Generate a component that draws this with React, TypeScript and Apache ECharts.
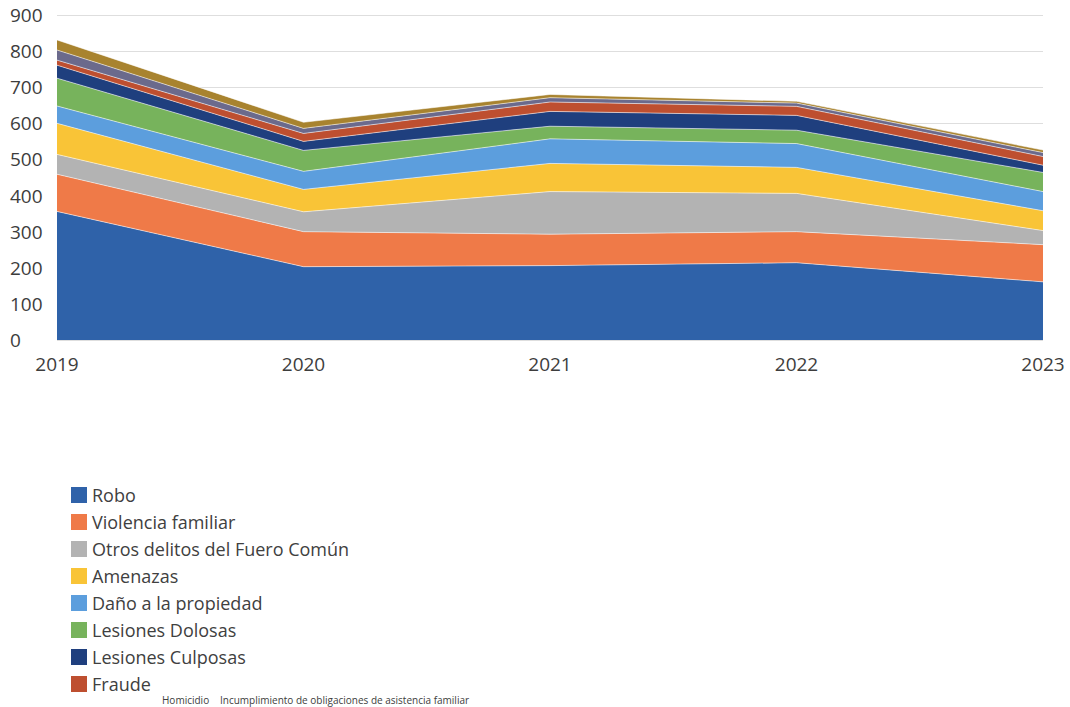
import React, { useEffect, useRef } from "react";
import * as echarts from "echarts";

const years = ["2019", "2020", "2021", "2022", "2023"];
const seriesNames = [
  "Robo",
  "Violencia familiar",
  "Otros delitos del Fuero Común",
  "Amenazas",
  "Daño a la propiedad",
  "Lesiones Dolosas",
  "Lesiones Culposas",
  "Fraude",
  "Homicidio",
  "Incumplimiento de obligaciones de asistencia familiar",
];
const robo = [356, 203, 206, 214, 161];
const violencia = [103, 97, 87, 86, 103];
const otros = [55, 55, 118, 106, 39];
const amenazas = [86, 62, 78, 72, 55];
const dano = [48, 50, 68, 66, 53];
const dolosas = [77, 58, 35, 37, 53];
const culposas = [36, 25, 41, 41, 20];
const fraude = [14, 22, 26, 25, 24];
const homicidio = [28, 14, 12, 9, 11];
const incumplimiento = [28, 17, 9, 5, 7];
const seriesValues = [robo, violencia, otros, amenazas, dano, dolosas, culposas, fraude, homicidio, incumplimiento];
const colors = [
  "#2f62a9",
  "#ef7a48",
  "#b3b3b3",
  "#f9c437",
  "#5c9edd",
  "#77b35c",
  "#1f3f7e",
  "#be4f30",
  "#6b6a8c",
  "#a8832f",
];
const yTicks = { min: 0, max: 900, interval: 100 };

const FONT = "'Open Sans', 'Noto Sans', sans-serif";

export default function App() {
  const ref = useRef<HTMLDivElement>(null);
  useEffect(() => {
    if (!ref.current) return;
    const chart = echarts.init(ref.current, undefined, { renderer: "svg" });
    chart.setOption({
      animation: false,
      backgroundColor: "#ffffff",
      color: colors,
      textStyle: { fontFamily: FONT },
      grid: { left: 57, right: 27, top: 15, bottom: 367, containLabel: false },
      xAxis: {
        type: "category",
        data: years,
        boundaryGap: false,
        axisLine: { show: false },
        axisTick: { show: false },
        splitLine: { show: false },
        axisLabel: { color: "#3d3d3d", fontSize: 19, margin: 14, fontFamily: FONT },
      },
      yAxis: {
        type: "value",
        min: yTicks.min,
        max: yTicks.max,
        interval: yTicks.interval,
        axisLine: { show: false },
        axisTick: { show: false },
        splitLine: { show: true, lineStyle: { color: "#dedede", width: 1 } },
        axisLabel: { color: "#3d3d3d", fontSize: 19, margin: 47, align: "left", fontFamily: FONT },
      },
      legend: {
        orient: "vertical",
        left: 71,
        top: 486,
        itemWidth: 16,
        itemHeight: 16,
        itemGap: 9,
        icon: "rect",
        padding: 0,
        data: seriesNames.slice(0, 8),
        textStyle: { color: "#404040", fontSize: 18, fontFamily: FONT },
      },
      graphic: [
        {
          type: "text",
          left: 162,
          top: 695,
          style: { text: seriesNames[8], fill: "#404040", fontSize: 10, lineHeight: 10, fontFamily: FONT },
        },
        {
          type: "text",
          left: 220,
          top: 695,
          style: { text: seriesNames[9], fill: "#404040", fontSize: 10, lineHeight: 10, fontFamily: FONT },
        },
      ],
      series: seriesNames.map((name, i) => ({
        name,
        type: "line",
        stack: "total",
        data: seriesValues[i],
        showSymbol: false,
        symbol: "none",
        lineStyle: { width: 1, color: "rgba(255,255,255,0.55)" },
        areaStyle: { color: colors[i], opacity: 1 },
        itemStyle: { color: colors[i] },
        z: 2,
      })),
    });
    return () => chart.dispose();
  }, []);
  return <div ref={ref} style={{ width: 1070, height: 707, position: "absolute", left: 0, top: 0 }} />;
}
